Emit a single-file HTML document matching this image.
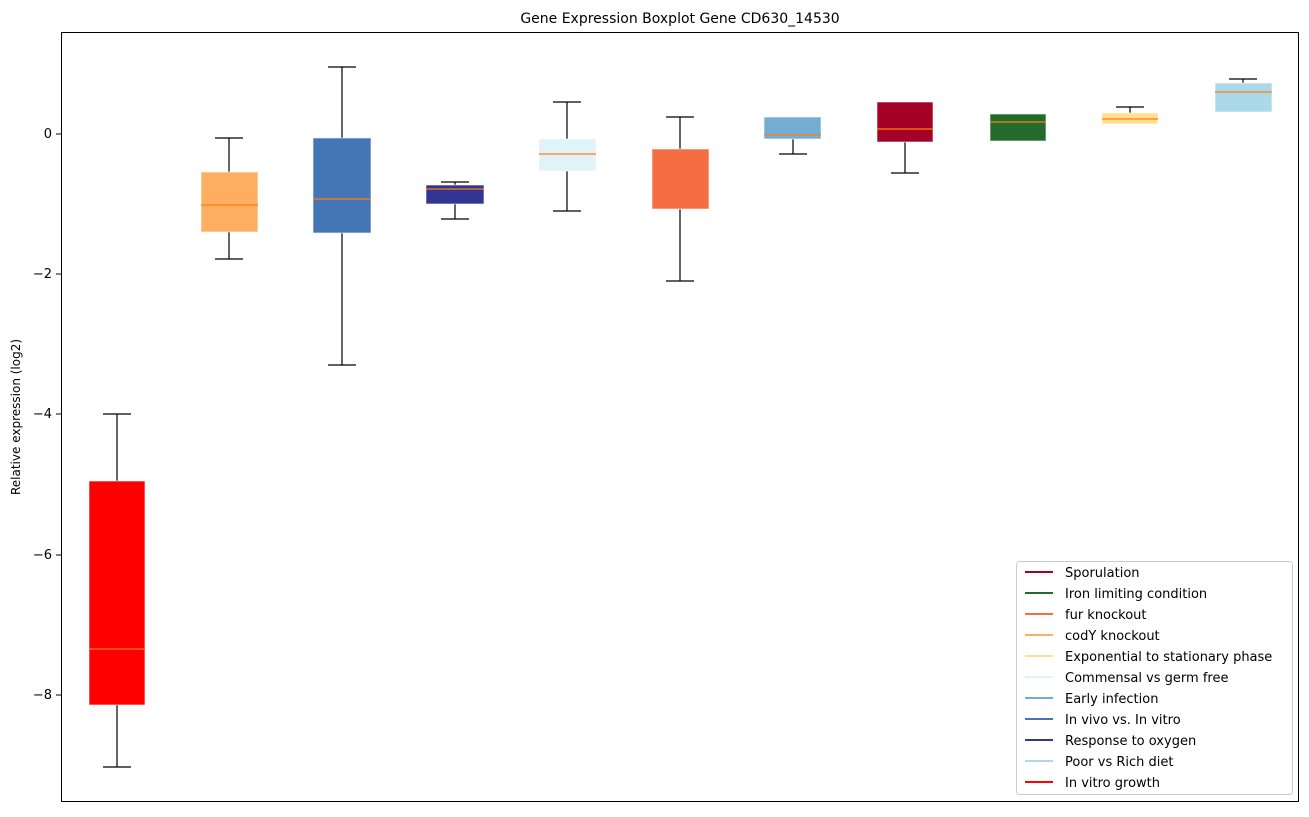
<!DOCTYPE html><html><head><style>body{margin:0;background:#fff}svg{font-family:"DejaVu Sans","Liberation Sans",sans-serif}</style></head><body>
<svg width="1309" height="812" xmlns="http://www.w3.org/2000/svg">
<text x="680" y="23" font-size="14" text-anchor="middle">Gene Expression Boxplot Gene CD630_14530</text>
<g font-size="13" text-anchor="end">
<line x1="56" x2="61" y1="134" y2="134" stroke="#000"/><text x="52" y="138">0</text>
<line x1="56" x2="61" y1="274" y2="274" stroke="#000"/><text x="52" y="278">−2</text>
<line x1="56" x2="61" y1="414" y2="414" stroke="#000"/><text x="52" y="418">−4</text>
<line x1="56" x2="61" y1="555" y2="555" stroke="#000"/><text x="52" y="559">−6</text>
<line x1="56" x2="61" y1="695" y2="695" stroke="#000"/><text x="52" y="699">−8</text>
</g>
<text transform="translate(20,417) rotate(-90)" font-size="12" text-anchor="middle">Relative expression (log2)</text>
<g stroke="#000" stroke-width="1.2" fill="none">
<path d="M117 414V481M117 705V767M103 414H131M103 767H131"/>
<path d="M229 138V172M229 232V259M215 138H243M215 259H243"/>
<path d="M342 67V138M342 233V365M328 67H356M328 365H356"/>
<path d="M455 182V185M455 204V219M441 182H469M441 219H469"/>
<path d="M567 102V139M567 171V211M553 102H581M553 211H581"/>
<path d="M680 117V149M680 209V281M666 117H694M666 281H694"/>
<path d="M793 139V154M779 154H807"/>
<path d="M905 142V173M891 173H919"/>
<path d="M1130 107V113M1116 107H1144"/>
<path d="M1243 79V83M1229 79H1257"/>
</g>
<g stroke="#fff" stroke-opacity="0.6">
<rect x="89" y="481" width="56" height="224" fill="#ff0000"/>
<rect x="201" y="172" width="57" height="60" fill="#fdae61"/>
<rect x="313" y="138" width="58" height="95" fill="#4575b4"/>
<rect x="426" y="185" width="58" height="19" fill="#313695"/>
<rect x="539" y="139" width="57" height="32" fill="#e0f3f8"/>
<rect x="652" y="149" width="57" height="60" fill="#f46d43"/>
<rect x="764" y="117" width="57" height="22" fill="#74add1"/>
<rect x="877" y="102" width="56" height="40" fill="#a50026"/>
<rect x="990" y="114" width="56" height="27" fill="#226b2c"/>
<rect x="1102" y="113" width="56" height="11" fill="#fee090"/>
<rect x="1215" y="83" width="57" height="29" fill="#abd9e9"/>
</g>
<g stroke="#ff7f0e" stroke-width="1.2">
<path d="M89 649H145M201 205H258M313 199H371M426 189H484M539 154H596M764 135H821M877 129H933M990 122H1046M1102 119H1158M1215 92H1272"/>
</g>
<rect x="61.5" y="32.5" width="1237" height="769" fill="none" stroke="#000"/>
<rect x="1016.5" y="561.5" width="276" height="233" fill="#fff" stroke="#ccc" rx="3"/>
<g font-size="13" stroke-width="2">
<line x1="1025" x2="1053" y1="572" y2="572" stroke="#a50026"/><text x="1065" y="577">Sporulation</text>
<line x1="1025" x2="1053" y1="593" y2="593" stroke="#226b2c"/><text x="1065" y="598">Iron limiting condition</text>
<line x1="1025" x2="1053" y1="614" y2="614" stroke="#f46d43"/><text x="1065" y="619">fur knockout</text>
<line x1="1025" x2="1053" y1="635" y2="635" stroke="#fdae61"/><text x="1065" y="640">codY knockout</text>
<line x1="1025" x2="1053" y1="656" y2="656" stroke="#fee090"/><text x="1065" y="661">Exponential to stationary phase</text>
<line x1="1025" x2="1053" y1="677" y2="677" stroke="#e0f3f8"/><text x="1065" y="682">Commensal vs germ free</text>
<line x1="1025" x2="1053" y1="698" y2="698" stroke="#74add1"/><text x="1065" y="703">Early infection</text>
<line x1="1025" x2="1053" y1="719" y2="719" stroke="#4575b4"/><text x="1065" y="724">In vivo vs. In vitro</text>
<line x1="1025" x2="1053" y1="740" y2="740" stroke="#313695"/><text x="1065" y="745">Response to oxygen</text>
<line x1="1025" x2="1053" y1="761" y2="761" stroke="#abd9e9"/><text x="1065" y="766">Poor vs Rich diet</text>
<line x1="1025" x2="1053" y1="782" y2="782" stroke="#ff0000"/><text x="1065" y="787">In vitro growth</text>
</g>
</svg></body></html>
